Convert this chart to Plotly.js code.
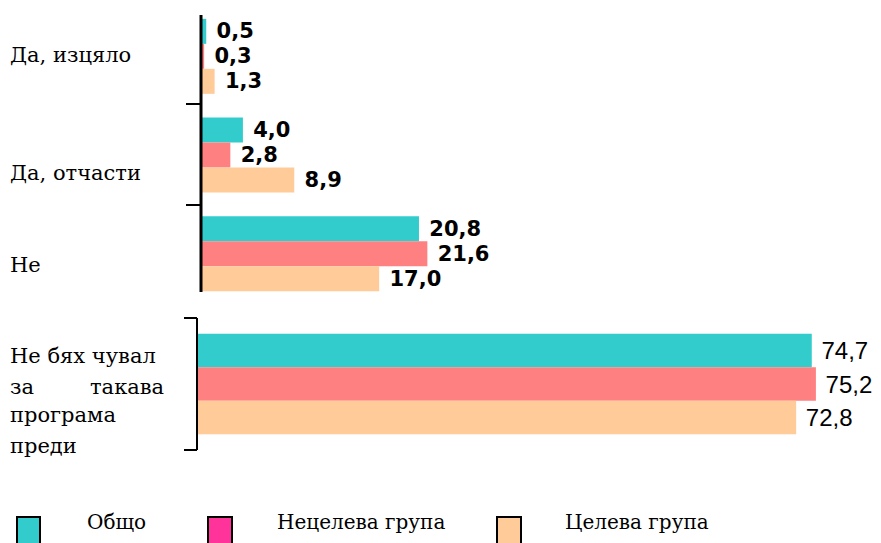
<!DOCTYPE html>
<html>
<head>
<meta charset="utf-8">
<script src="https://cdn.plot.ly/plotly-3.0.1.min.js"></script>
<style>html,body{margin:0;padding:0;background:#fff;}#chart{width:881px;height:543px;}</style>
</head>
<body>
<div id="chart"></div>
<script>
// Data
const topCategories = ["Да, изцяло", "Да, отчасти", "Не"];
const bottomCategory = ["Не бях чувал за такава програма преди"];
const seriesNames = ["Общо", "Нецелева група", "Целева група"];
const obshtoTop = [0.5, 4.0, 20.8];
const nezelevaTop = [0.3, 2.8, 21.6];
const zelevaTop = [1.3, 8.9, 17.0];
const obshtoBottom = [74.7];
const nezelevaBottom = [75.2];
const zelevaBottom = [72.8];

const barColors = ["#33CCCC", "#FF8080", "#FFCC99"];
const legendColors = ["#33CCCC", "#FF3399", "#FFCC99"];

const W = 881, H = 543;
const px = v => v / W;
const py = v => 1 - v / H;

const topFont = {family: "DejaVu Sans", size: 21, color: "#000", weight: "bold"};
const bottomFont = {family: "Liberation Sans", size: 24, color: "#000"};

function topTrace(vals, i) {
  return {
    type: "bar", orientation: "h", name: seriesNames[i],
    y: topCategories, x: vals, xaxis: "x", yaxis: "y",
    marker: {color: barColors[i]},
    text: vals, texttemplate: "\u00a0%{x:.1f}", textposition: "outside",
    textfont: topFont, constraintext: "none", cliponaxis: false,
    showlegend: false, hoverinfo: "skip"
  };
}
function bottomTrace(vals, i) {
  return {
    type: "bar", orientation: "h", name: seriesNames[i],
    y: bottomCategory, x: vals, xaxis: "x2", yaxis: "y2",
    marker: {color: barColors[i]},
    text: vals, texttemplate: "\u00a0%{x:.1f}", textposition: "outside",
    textfont: bottomFont, constraintext: "none", cliponaxis: false,
    showlegend: false, hoverinfo: "skip"
  };
}

const data = [
  topTrace(obshtoTop, 0), topTrace(nezelevaTop, 1), topTrace(zelevaTop, 2),
  bottomTrace(obshtoBottom, 0), bottomTrace(nezelevaBottom, 1), bottomTrace(zelevaBottom, 2)
];

const serif = {family: "DejaVu Serif", size: 21, color: "#000"};
const legendFont = {family: "DejaVu Serif", size: 20, color: "#000"};
const annotations = [];
function catLabel(text, yPix, xPix, anchor) {
  annotations.push({text: text, xref: "paper", yref: "paper", x: px(xPix), y: py(yPix),
    xanchor: anchor || "left", yanchor: "middle", showarrow: false, font: serif, align: "left"});
}
catLabel(topCategories[0], 55, 8);
catLabel(topCategories[1], 173, 8);
catLabel(topCategories[2], 265, 8);
catLabel("Не бях чувал", 356, 8);
catLabel("за", 387, 8);
catLabel("такава", 387, 166, "right");
catLabel("програма", 415, 8);
catLabel("преди", 446, 8);

// legend (drawn)
const legendX = [[17, 40, 85], [208, 232, 275], [497, 521, 563]];
const shapes = [];
seriesNames.forEach((n, i) => {
  const [a, b, t] = legendX[i];
  shapes.push({type: "rect", xref: "paper", yref: "paper", x0: px(a), x1: px(b), y0: py(548), y1: py(517),
    fillcolor: legendColors[i], line: {color: "#000", width: 2}});
  annotations.push({text: n, xref: "paper", yref: "paper", x: px(t), y: py(522), xanchor: "left", yanchor: "middle",
    showarrow: false, font: legendFont});
});

// axis lines & ticks
const line = (x0, y0, x1, y1, w) => shapes.push({type: "line", xref: "paper", yref: "paper",
  x0: px(x0), x1: px(x1), y0: py(y0), y1: py(y1), line: {color: "#000", width: w}});
line(201, 15, 201, 292, 3);
line(186, 104, 201, 104, 2);
line(186, 205, 201, 205, 2);
line(197, 318, 197, 450, 2);
line(184, 318, 197, 318, 2);
line(184, 450, 197, 450, 2);

const hiddenX = {showgrid: false, zeroline: false, showline: false, showticklabels: false, ticks: "", fixedrange: true};
const layout = {
  width: W, height: H,
  margin: {l: 0, r: 0, t: 0, b: 0},
  paper_bgcolor: "#fff", plot_bgcolor: "rgba(0,0,0,0)",
  separators: ", ",
  barmode: "group", bargap: 0.24, bargroupgap: 0,
  showlegend: false,
  xaxis: Object.assign({domain: [px(201), px(841)], range: [0, 61.07], anchor: "y"}, hiddenX),
  xaxis2: Object.assign({domain: [px(197), px(841)], range: [0, 78.25], anchor: "y2"}, hiddenX),
  yaxis: {domain: [py(303), py(7)], autorange: "reversed", type: "category", anchor: "x",
    showgrid: false, zeroline: false, showline: false, showticklabels: false, ticks: ""},
  yaxis2: {domain: [py(450), py(318)], autorange: "reversed", type: "category", anchor: "x2",
    showgrid: false, zeroline: false, showline: false, showticklabels: false, ticks: ""},
  annotations: annotations,
  shapes: shapes
};

Plotly.newPlot("chart", data, layout, {staticPlot: true, displayModeBar: false});
</script>
</body>
</html>
